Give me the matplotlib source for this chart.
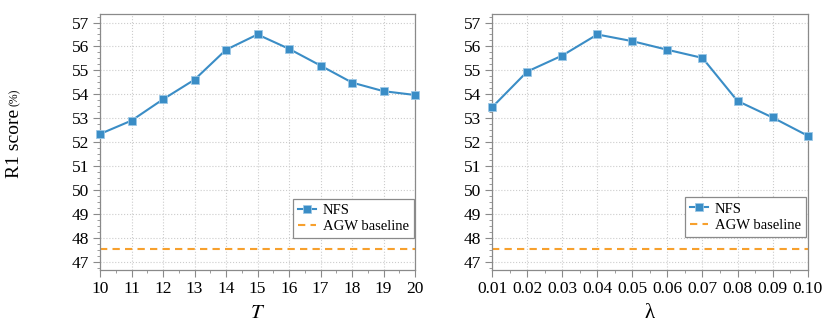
import matplotlib
matplotlib.use('Agg')
import matplotlib.pyplot as plt
from matplotlib.ticker import MultipleLocator, AutoMinorLocator

plt.rcParams['font.family'] = ['Liberation Serif', 'DejaVu Serif']
plt.rcParams['mathtext.fontset'] = 'stix'

# data
T_vals = [10, 11, 12, 13, 14, 15, 16, 17, 18, 19, 20]
T_scores = [52.34, 52.90, 53.79, 54.61, 55.86, 56.50, 55.90, 55.20, 54.49, 54.13, 53.97]
lam_vals = [0.01, 0.02, 0.03, 0.04, 0.05, 0.06, 0.07, 0.08, 0.09, 0.10]
lam_labels = ['0.01', '0.02', '0.03', '0.04', '0.05', '0.06', '0.07', '0.08', '0.09', '0.10']
lam_scores = [53.46, 54.95, 55.62, 56.50, 56.22, 55.86, 55.52, 53.72, 53.03, 52.27]
baseline = 47.52

blue = '#3a8dc6'
orange = '#f7a02d'
spine_col = '#8a8a8a'

fig = plt.figure(figsize=(8.3, 3.31), dpi=100)
ax1 = fig.add_axes([0.1205, 0.184, 0.3795, 0.774])
ax2 = fig.add_axes([0.593, 0.184, 0.380, 0.774])


def style(ax, xs, ys, xticks, xlabels, xlabel, legend_anchor):
    ax.plot(xs, ys, color=blue, lw=1.5, marker='s', ms=5.5,
            mfc=blue, mec='#9cc8e6', mew=0.6, label='NFS', zorder=3, clip_on=False)
    ax.axhline(baseline, color=orange, lw=1.5, ls=(0, (3.5, 2.5)), label='AGW baseline')
    ax.set_xlim(xs[0], xs[-1])
    ax.set_ylim(46.65, 57.36)
    ax.set_xticks(xticks)
    ax.set_xticklabels(xlabels)
    ax.xaxis.set_minor_locator(AutoMinorLocator(2))
    ax.yaxis.set_major_locator(MultipleLocator(1))
    ax.yaxis.set_minor_locator(MultipleLocator(0.25))
    ax.grid(True, which='major', color='#cccccc', ls=':', lw=0.8)
    for s in ax.spines.values():
        s.set_color(spine_col)
        s.set_linewidth(0.9)
    ax.tick_params(which='major', direction='out', length=5, width=0.8,
                   color=spine_col, labelsize=12.5, pad=3)
    ax.tick_params(which='minor', direction='out', length=2.5, width=0.6,
                   color=spine_col)
    ax.set_xlabel(xlabel, fontsize=15, labelpad=5)
    leg = ax.legend(loc='lower right', bbox_to_anchor=legend_anchor,
                    fontsize=10.5, frameon=True, fancybox=False,
                    edgecolor=spine_col, framealpha=1, borderpad=0.35,
                    handlelength=1.2, handletextpad=0.5, labelspacing=0.2,
                    borderaxespad=0)
    leg.get_frame().set_linewidth(0.9)


style(ax1, T_vals, T_scores, T_vals, [str(t) for t in T_vals], '$T$', (0.997, 0.125))
style(ax2, lam_vals, lam_scores, lam_vals, lam_labels, 'λ', (0.995, 0.13))

# y label: "R1 score" with a smaller "(%)" placed right after it
t1 = fig.text(0.018, 1 - 178 / 331, 'R1 score', rotation=90, fontsize=14,
              ha='center', va='bottom')
fig.canvas.draw()
bb = t1.get_window_extent()
fig.text(0.018, (bb.y1 + 3) / fig.bbox.height, '(%)', rotation=90, fontsize=8.5,
         ha='center', va='bottom')

fig.savefig('out.png', dpi=100)
